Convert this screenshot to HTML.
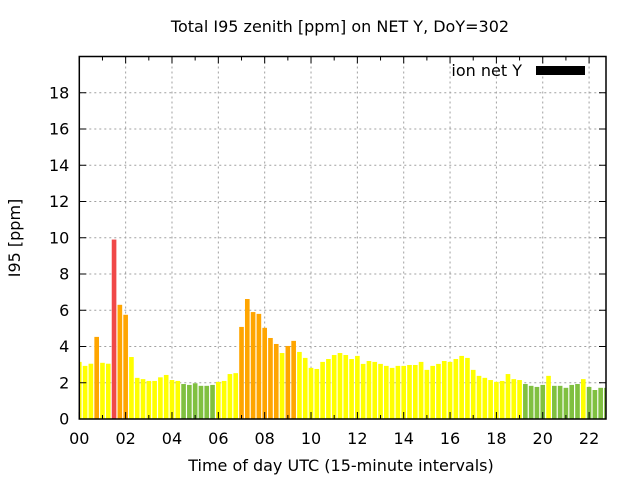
<!DOCTYPE html>
<html><head><meta charset="utf-8"><style>
html,body{margin:0;padding:0;background:#fff;}
svg{display:block;font-family:"DejaVu Sans","Liberation Sans",sans-serif;}
</style></head><body>
<svg id="chart" width="640" height="480" viewBox="0 0 640 480" xmlns="http://www.w3.org/2000/svg">
<rect x="0" y="0" width="640" height="480" fill="#fff"/>
<text x="340" y="32" text-anchor="middle" font-size="16">Total I95 zenith [ppm] on NET Y, DoY=302</text>
<text x="0" y="0" transform="translate(20,238) rotate(-90)" text-anchor="middle" font-size="16">I95 [ppm]</text>
<text x="341" y="471" text-anchor="middle" font-size="16">Time of day UTC (15-minute intervals)</text>
<g id="grid"></g>
<g id="bars"></g>
<g id="axes"></g>
<g>
<text x="522" y="76" text-anchor="end" font-size="16">ion net Y</text>
<rect x="536" y="66" width="49" height="9" fill="#000"/>
</g>
</svg>
<script>
const values = [3.15,2.93,3.05,4.53,3.1,3.05,9.9,6.3,5.75,3.42,
2.27,2.2,2.1,2.1,2.3,2.43,2.15,2.1,1.93,1.88,
1.97,1.83,1.83,1.88,2.05,2.1,2.48,2.53,5.08,6.62,
5.9,5.8,5.03,4.47,4.14,3.64,4.03,4.31,3.7,3.37,
2.82,2.76,3.15,3.31,3.53,3.64,3.53,3.31,3.48,3.04,
3.2,3.15,3.04,2.93,2.82,2.93,2.93,2.98,2.98,3.15,
2.71,2.93,3.04,3.2,3.15,3.31,3.48,3.37,2.71,2.38,
2.27,2.15,2.05,2.1,2.48,2.2,2.15,1.93,1.83,1.77,
1.88,2.38,1.83,1.83,1.72,1.88,1.93,2.2,1.77,1.6,
1.72,1.72];
const yTicks = [0,2,4,6,8,10,12,14,16,18];
const xTickHours = [0,2,4,6,8,10,12,14,16,18,20,22];
const xTickLabels = ["00","02","04","06","08","10","12","14","16","18","20","22"];
const binHours = 0.25;

const L=79.3, R=606, T=56.5, B=419, XMAX=22.73, YMAX=20;
const xs = h => L + h/XMAX*(R-L);
const ys = v => B - v/YMAX*(B-T);
const NS="http://www.w3.org/2000/svg";
function mk(tag, attrs, parent){const e=document.createElementNS(NS,tag);for(const k in attrs)e.setAttribute(k,attrs[k]);parent.appendChild(e);return e;}
const grid=document.getElementById('grid'), bars=document.getElementById('bars'), axes=document.getElementById('axes');

yTicks.forEach(v=>{
  if(v>0){const g=mk('line',{x1:L,x2:R,y1:ys(v),y2:ys(v),stroke:'#a0a0a0','stroke-width':1,'stroke-dasharray':'2,3'},grid);
  
  }
  const t=mk('text',{x:L-10,y:ys(v)+5.5,'text-anchor':'end','font-size':16},axes);
  t.textContent=v;
  
  
  const tk=mk('path',{d:`M${L},${ys(v)}h7M${R},${ys(v)}h-7`,stroke:'#000','stroke-width':1},axes);
  
  
});
xTickHours.forEach((h,i)=>{
  if(h>0){const g=mk('line',{x1:xs(h),x2:xs(h),y1:T,y2:B,stroke:'#a0a0a0','stroke-width':1,'stroke-dasharray':'2,3'},grid);
  
  }
  const t=mk('text',{x:xs(h),y:444,'text-anchor':'middle','font-size':16},axes);
  t.textContent=xTickLabels[i];
  
  
});
for(let h=0;h<=XMAX;h+=1){
  const len = h%2===0?7:4;
  const tk=mk('path',{d:`M${xs(h)},${B}v-${len}M${xs(h)},${T}v${len}`,stroke:'#000','stroke-width':1},axes);
  
  
}
function color(v){ if(v<2) return '#80c040'; if(v<4) return '#ffff00'; if(v<9) return '#ffa500'; return '#f04848'; }
const bw = 0.2/XMAX*(R-L);
values.forEach((v,i)=>{
  const cx = xs(i*binHours);
  let x0=cx-bw/2, x1=cx+bw/2;
  x0=Math.max(x0,L); x1=Math.min(x1,R);
  const r=mk('rect',{x:x0,y:ys(v),width:Math.max(0,x1-x0),height:B-ys(v),fill:color(v)},bars);
  
  
});
const box=mk('rect',{x:L,y:T,width:R-L,height:B-T,fill:'none',stroke:'#000','stroke-width':1.5},axes);


</script>
</body></html>
